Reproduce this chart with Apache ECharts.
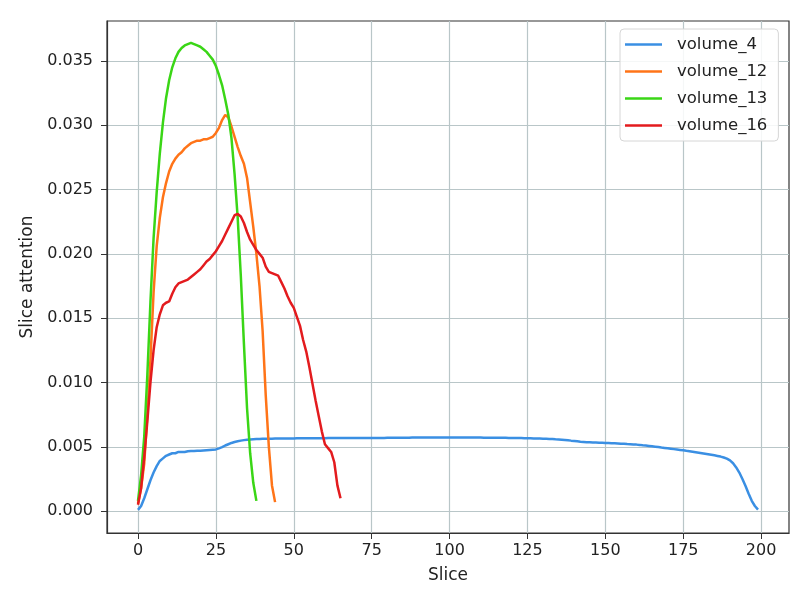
<!DOCTYPE html>
<html>
<head>
<meta charset="utf-8">
<title>Slice attention</title>
<script src="https://cdn.jsdelivr.net/npm/echarts@6/dist/echarts.min.js"></script>
<style>
  html, body { margin: 0; padding: 0; background: #fff; }
  #main { width: 807px; height: 606px; }
</style>
</head>
<body>
<div id="main"></div>
<script>
  // values, one per slice starting at slice 0
  var seriesNames = ['volume_4', 'volume_12', 'volume_13', 'volume_16'];
  var xTicks = [0, 25, 50, 75, 100, 125, 150, 175, 200];
  var yTicks = [0, 0.005, 0.01, 0.015, 0.02, 0.025, 0.03, 0.035];

  var volume4 = [
    0.0001, 0.0004, 0.0010, 0.0017, 0.0024, 0.0030, 0.0035, 0.0039, 0.0041, 0.0043,
    0.0044, 0.0045, 0.0045, 0.0046, 0.0046, 0.0046, 0.00465, 0.00467, 0.00468, 0.0047,
    0.0047, 0.00472, 0.00474, 0.00476, 0.00478, 0.0048, 0.00488, 0.00497, 0.0051, 0.0052,
    0.0053, 0.00537, 0.00543, 0.00548, 0.00552, 0.00555, 0.00557, 0.00559, 0.0056, 0.00561,
    0.00562, 0.00562, 0.00563, 0.00563, 0.00564, 0.00564, 0.00564, 0.00565, 0.00565, 0.00565,
    0.00565, 0.00566, 0.00566, 0.00566, 0.00566, 0.00567, 0.00567, 0.00567, 0.00567, 0.00567,
    0.00567, 0.00568, 0.00568, 0.00568, 0.00568, 0.00568, 0.00568, 0.00568, 0.00568, 0.00568,
    0.00568, 0.00568, 0.00568, 0.00569, 0.00569, 0.00569, 0.00569, 0.00569, 0.00569, 0.00569,
    0.00570, 0.00570, 0.00570, 0.00570, 0.00571, 0.00571, 0.00571, 0.00571, 0.00572, 0.00572,
    0.00572, 0.00572, 0.00572, 0.00572, 0.00572, 0.00572, 0.00572, 0.00572, 0.00572, 0.00572,
    0.00572, 0.00572, 0.00572, 0.00572, 0.00572, 0.00572, 0.00572, 0.00572, 0.00572, 0.00572,
    0.00572, 0.00571, 0.00571, 0.00571, 0.00571, 0.00570, 0.00570, 0.00570, 0.00570, 0.00569,
    0.00569, 0.00569, 0.00568, 0.00568, 0.00567, 0.00567, 0.00566, 0.00565, 0.00565, 0.00564,
    0.00563, 0.00562, 0.00561, 0.00560, 0.00558, 0.00557, 0.00555, 0.00553, 0.00551, 0.00548,
    0.00546, 0.00543, 0.00540, 0.00538, 0.00536, 0.00535, 0.00534, 0.00533, 0.00532, 0.00531,
    0.00530, 0.00529, 0.00528, 0.00527, 0.00526, 0.00524, 0.00523, 0.00521, 0.00520, 0.00518,
    0.00517, 0.00515, 0.00512, 0.00510, 0.00507, 0.00504, 0.00501, 0.00498, 0.00494, 0.00491,
    0.00488, 0.00485, 0.00482, 0.00479, 0.00476, 0.00473, 0.00469, 0.00466, 0.00462, 0.00458,
    0.00454, 0.00450, 0.00446, 0.00442, 0.00438, 0.00434, 0.00429, 0.00424, 0.00417, 0.00408,
    0.00394, 0.00372, 0.00340, 0.00300, 0.00250, 0.00195, 0.00135, 0.00080, 0.00040, 0.00012
  ];

  var volume12 = [
    0.0006, 0.0018, 0.0037, 0.0075, 0.0118, 0.0170, 0.0206, 0.0228, 0.0244, 0.0255,
    0.0264, 0.0270, 0.0274, 0.0277, 0.0279, 0.0282, 0.0284, 0.0286, 0.0287, 0.0288,
    0.0288, 0.0289, 0.0289, 0.0290, 0.0291, 0.0294, 0.0298, 0.0304, 0.0308, 0.0306,
    0.0299, 0.0291, 0.0283, 0.0276, 0.0270, 0.0259, 0.0240, 0.0221, 0.0200, 0.0175,
    0.0140, 0.0090, 0.0050, 0.0020, 0.0007
  ];

  var volume13 = [
    0.0008, 0.0028, 0.0058, 0.0106, 0.0163, 0.0212, 0.0248, 0.0278, 0.0302, 0.0321,
    0.0335, 0.0345, 0.0352, 0.0357, 0.0360, 0.0362, 0.0363, 0.0364, 0.0363, 0.0362,
    0.0361, 0.0359, 0.0357, 0.0354, 0.0351, 0.0346, 0.0339, 0.0331, 0.0320, 0.0308,
    0.0290, 0.0262, 0.0228, 0.0183, 0.0130, 0.0080, 0.0045, 0.0022, 0.0008
  ];

  var volume16 = [
    0.0005, 0.0018, 0.0042, 0.0070, 0.0100, 0.0125, 0.0143, 0.0153, 0.0160, 0.0162,
    0.0163, 0.0169, 0.0174, 0.0177, 0.0178, 0.0179, 0.0180, 0.0182, 0.0184, 0.0186,
    0.0188, 0.0191, 0.0194, 0.0196, 0.0199, 0.0202, 0.0206, 0.0210, 0.0215, 0.0220,
    0.0225, 0.0230, 0.0231, 0.0229, 0.0224, 0.0217, 0.0211, 0.0207, 0.0203, 0.0200,
    0.0197, 0.0190, 0.0186, 0.0185, 0.0184, 0.0183, 0.0178, 0.0173, 0.0167, 0.0162,
    0.0158, 0.0151, 0.0144, 0.0133, 0.0124, 0.0112, 0.0099, 0.0086, 0.0074, 0.0062,
    0.0052, 0.0049, 0.0046, 0.0038, 0.0020, 0.0010
  ];

  var colors = ['#3a8fe3', '#ff7418', '#3ad616', '#e31b1e'];

  function toPairs(arr) {
    var out = [];
    for (var i = 0; i < arr.length; i++) {
      out.push([i, arr[i]]);
    }
    return out;
  }

  var allData = [volume4, volume12, volume13, volume16];
  var series = [];
  for (var s = 0; s < allData.length; s++) {
    series.push({
      name: seriesNames[s],
      type: 'line',
      data: toPairs(allData[s]),
      showSymbol: false,
      smooth: false,
      lineStyle: { width: 2.5, color: colors[s] },
      itemStyle: { color: colors[s] },
      emphasis: { disabled: true }
    });
  }

  var font = 'DejaVu Sans';
  var gridColor = '#b9c6c8';

  var myChart = echarts.init(document.getElementById('main'));
  var option = {
    backgroundColor: '#ffffff',
    animation: false,
    grid: {
      left: 107,
      right: 18,
      top: 21,
      bottom: 73,
      show: true,
      borderColor: '#333',
      borderWidth: 1.2
    },
    legend: {
      data: seriesNames,
      orient: 'vertical',
      left: 620,
      top: 29,
      icon: 'rect',
      itemWidth: 37,
      itemHeight: 2.5,
      itemGap: 10,
      padding: [7, 11, 7, 5],
      backgroundColor: 'rgba(255,255,255,0.85)',
      borderColor: '#d6d6d6',
      borderWidth: 1,
      borderRadius: 4,
      textStyle: {
        fontFamily: font,
        fontSize: 16.5,
        color: '#222',
        lineHeight: 16,
        padding: [0, 0, 0, 10]
      }
    },
    xAxis: {
      type: 'value',
      min: -9.95,
      max: 208.95,
      name: 'Slice',
      nameLocation: 'middle',
      nameGap: 34,
      nameTextStyle: { fontFamily: font, fontSize: 17, color: '#222' },
      axisLine: { show: true, onZero: false, lineStyle: { color: '#333', width: 1.2 } },
      axisTick: { show: true, length: 6, lineStyle: { color: '#333' }, customValues: xTicks },
      axisLabel: { fontFamily: font, fontSize: 16, color: '#222', margin: 10, customValues: xTicks },
      splitLine: { show: true, lineStyle: { color: gridColor, width: 1.2 } }
    },
    yAxis: {
      type: 'value',
      min: -0.0017,
      max: 0.0381,
      name: 'Slice attention',
      nameLocation: 'middle',
      nameGap: 70,
      nameTextStyle: { fontFamily: font, fontSize: 17, color: '#222' },
      axisLine: { show: true, onZero: false, lineStyle: { color: '#333', width: 1.2 } },
      axisTick: { show: true, length: 6, lineStyle: { color: '#333' }, customValues: yTicks },
      axisLabel: {
        fontFamily: font, fontSize: 16, color: '#222', margin: 14, customValues: yTicks,
        formatter: function (v) { return v.toFixed(3); }
      },
      splitLine: { show: true, lineStyle: { color: gridColor, width: 1.2 } }
    },
    series: series
  };
  myChart.setOption(option);
</script>
</body>
</html>
